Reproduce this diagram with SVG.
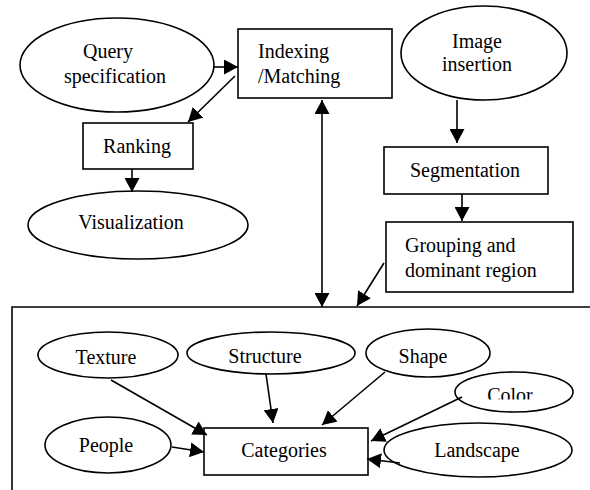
<svg xmlns="http://www.w3.org/2000/svg" width="590" height="490" viewBox="0 0 590 490">
  <style>
    .shape { fill: #fff; stroke: #000; stroke-width: 1.6; }
    .label { font-family: "Liberation Serif", "Times New Roman", serif; font-size: 20px; fill: #000; text-anchor: middle; }
    .left { text-anchor: start; }
    .edge { fill: none; stroke: #000; stroke-width: 1.6; }
  </style>
  <defs>
    <marker id="arrow" markerUnits="userSpaceOnUse" markerWidth="14" markerHeight="15" refX="14" refY="7.5" orient="auto-start-reverse">
      <path d="M0,0 L14,7.5 L0,15 z" fill="#000"/>
    </marker>
    <clipPath id="colorClip">
      <rect x="450" y="370" width="130" height="29.5"/>
    </clipPath>
  </defs>

  <rect width="590" height="490" fill="#fff"/>

  <!-- frame around the feature database -->
  <path class="edge" d="M12,492 L12,307 L592,307"/>

  <g id="query">
    <ellipse class="shape" cx="117" cy="65" rx="97" ry="47"/>
    <text class="label" x="108" y="58">Query</text>
    <text class="label" x="115" y="83">specification</text>
  </g>
  <g id="indexing">
    <rect class="shape" x="238" y="29" width="154" height="69"/>
    <text class="label left" x="258" y="58">Indexing</text>
    <text class="label left" x="258" y="83">/Matching</text>
  </g>
  <g id="ranking">
    <rect class="shape" x="83" y="123" width="110" height="46"/>
    <text class="label" x="137" y="153">Ranking</text>
  </g>
  <g id="visualization">
    <ellipse class="shape" cx="138" cy="225" rx="110" ry="34"/>
    <text class="label" x="131" y="229">Visualization</text>
  </g>
  <g id="image-insertion">
    <ellipse class="shape" cx="484" cy="53" rx="83" ry="47"/>
    <text class="label" x="477" y="48">Image</text>
    <text class="label" x="477" y="71">insertion</text>
  </g>
  <g id="segmentation">
    <rect class="shape" x="384" y="147" width="164" height="47"/>
    <text class="label" x="465" y="177">Segmentation</text>
  </g>
  <g id="grouping">
    <rect class="shape" x="386" y="222" width="187" height="70"/>
    <text class="label left" x="405" y="252">Grouping and</text>
    <text class="label left" x="405" y="277">dominant region</text>
  </g>

  <g id="texture">
    <ellipse class="shape" cx="108" cy="355" rx="70" ry="23"/>
    <text class="label" x="106" y="364">Texture</text>
  </g>
  <g id="structure">
    <ellipse class="shape" cx="271" cy="353" rx="84" ry="21"/>
    <text class="label" x="265" y="363">Structure</text>
  </g>
  <g id="shape">
    <ellipse class="shape" cx="428" cy="353" rx="62" ry="24"/>
    <text class="label" x="423" y="363">Shape</text>
  </g>
  <g id="color">
    <ellipse class="shape" cx="514" cy="392" rx="59" ry="20"/>
    <text class="label" x="510" y="402" clip-path="url(#colorClip)">Color</text>
  </g>
  <g id="people">
    <ellipse class="shape" cx="108" cy="445" rx="63" ry="28"/>
    <text class="label" x="106" y="452">People</text>
  </g>
  <g id="categories">
    <rect class="shape" x="204" y="428" width="164" height="47"/>
    <text class="label" x="284" y="457">Categories</text>
  </g>
  <g id="landscape">
    <ellipse class="shape" cx="478" cy="450" rx="94" ry="27"/>
    <text class="label" x="477" y="457">Landscape</text>
  </g>

  <g id="connectors">
    <line class="edge" x1="214" y1="67" x2="238" y2="67" marker-end="url(#arrow)"/>
    <line class="edge" x1="235" y1="76" x2="188" y2="122" marker-end="url(#arrow)"/>
    <line class="edge" x1="132" y1="169" x2="132" y2="192" marker-end="url(#arrow)"/>
    <line class="edge" x1="457" y1="100" x2="457" y2="143" marker-end="url(#arrow)"/>
    <line class="edge" x1="462" y1="194" x2="462" y2="221" marker-end="url(#arrow)"/>
    <line class="edge" x1="322" y1="100" x2="322" y2="307" marker-start="url(#arrow)" marker-end="url(#arrow)"/>
    <line class="edge" x1="384" y1="263" x2="357" y2="306" marker-end="url(#arrow)"/>
    <line class="edge" x1="111" y1="380" x2="207" y2="435" marker-end="url(#arrow)"/>
    <line class="edge" x1="266" y1="374" x2="273" y2="423" marker-end="url(#arrow)"/>
    <line class="edge" x1="385" y1="372" x2="322" y2="425" marker-end="url(#arrow)"/>
    <line class="edge" x1="462" y1="397" x2="371" y2="441" marker-end="url(#arrow)"/>
    <line class="edge" x1="400" y1="463" x2="367" y2="459" marker-end="url(#arrow)"/>
    <line class="edge" x1="172" y1="447" x2="204" y2="452" marker-end="url(#arrow)"/>
  </g>
</svg>
